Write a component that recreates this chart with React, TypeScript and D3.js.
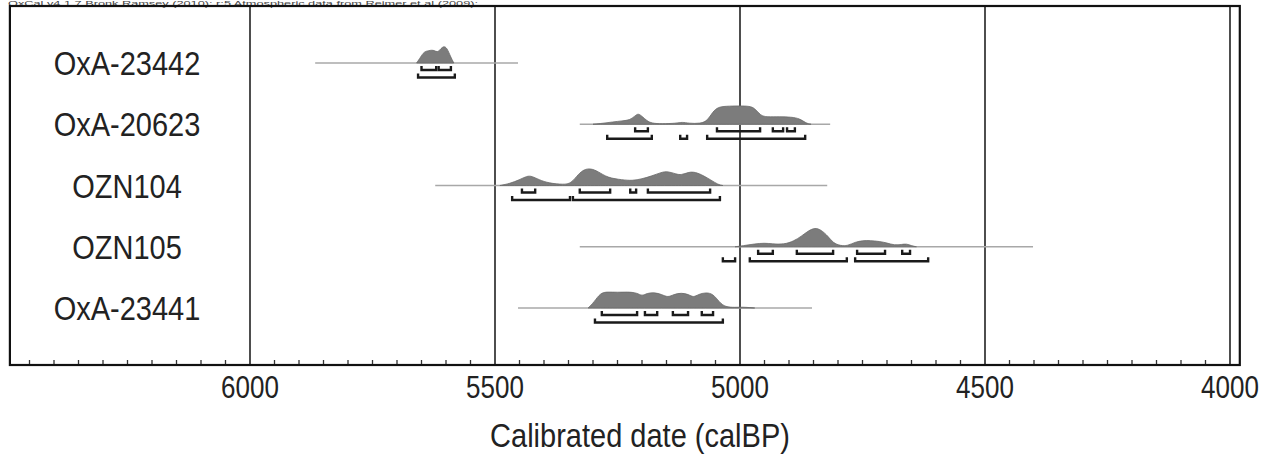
import React from "react";
import * as d3 from "d3";

const samples = ["OxA-23442", "OxA-20623", "OZN104", "OZN105", "OxA-23441"];

// probability densities [calBP, relative density]
const densOxA23442: [number, number][] = [
  [5660, 0], [5652, 0.3], [5645, 0.6], [5635, 0.65], [5626, 0.7], [5618, 0.55], [5612, 0.7],
  [5605, 0.9], [5598, 0.8], [5591, 0.35], [5584, 0],
];
const densOxA20623: [number, number][] = [
  [5300, 0], [5280, 0.05], [5260, 0.12], [5240, 0.18], [5225, 0.22], [5215, 0.42], [5208, 0.58],
  [5200, 0.42], [5190, 0.18], [5180, 0.05], [5160, 0.02], [5130, 0.05], [5118, 0.12], [5105, 0.05],
  [5080, 0.03], [5066, 0.2], [5056, 0.65], [5045, 0.9], [5030, 0.95], [5000, 0.97], [4980, 0.95],
  [4970, 0.85], [4958, 0.45], [4945, 0.38], [4920, 0.4], [4895, 0.38], [4878, 0.3], [4865, 0.05], [4855, 0],
];
const densOZN104: [number, number][] = [
  [5490, 0], [5470, 0.1], [5450, 0.3], [5435, 0.5], [5425, 0.5], [5410, 0.3], [5390, 0.12],
  [5360, 0.05], [5345, 0.1], [5330, 0.6], [5318, 0.85], [5305, 0.9], [5290, 0.75], [5270, 0.4],
  [5240, 0.3], [5220, 0.25], [5200, 0.35], [5180, 0.5], [5160, 0.7], [5148, 0.75], [5130, 0.6],
  [5120, 0.55], [5105, 0.7], [5095, 0.72], [5080, 0.6], [5060, 0.3], [5045, 0.05], [5035, 0],
];
const densOZN105: [number, number][] = [
  [5010, 0], [4995, 0.05], [4970, 0.15], [4950, 0.2], [4935, 0.15], [4910, 0.12], [4890, 0.3],
  [4875, 0.55], [4860, 0.85], [4847, 1.0], [4835, 0.9], [4820, 0.55], [4810, 0.2], [4795, 0.05],
  [4780, 0.05], [4765, 0.25], [4750, 0.32], [4735, 0.33], [4715, 0.28], [4700, 0.2], [4685, 0.08],
  [4670, 0.12], [4660, 0.16], [4650, 0.05], [4640, 0],
];
const densOxA23441: [number, number][] = [
  [5310, 0], [5298, 0.3], [5285, 0.8], [5270, 0.85], [5250, 0.82], [5230, 0.85], [5210, 0.8],
  [5200, 0.62], [5190, 0.78], [5175, 0.82], [5160, 0.72], [5147, 0.55], [5135, 0.72], [5120, 0.8],
  [5105, 0.72], [5095, 0.55], [5085, 0.72], [5070, 0.82], [5055, 0.75], [5042, 0.3], [5030, 0.05],
  [5010, 0.03], [4995, 0.05], [4980, 0.02], [4970, 0],
];
const densities = [densOxA23442, densOxA20623, densOZN104, densOZN105, densOxA23441];

// faint full extent lines
const extents: [number, number][] = [
  [5867, 5453], [5327, 4816], [5622, 4822], [5327, 4402], [5453, 4853],
];

// 68.2% ranges
const ranges68: [number, number][][] = [
  [[5650, 5620], [5615, 5590]],
  [[5214, 5188], [5047, 4959], [4933, 4912], [4904, 4888]],
  [[5445, 5418], [5327, 5265], [5224, 5212], [5188, 5061]],
  [[4963, 4933], [4884, 4810], [4761, 4704], [4669, 4653]],
  [[5282, 5210], [5194, 5169], [5137, 5106], [5078, 5055]],
];
// 95.4% ranges
const ranges95: [number, number][][] = [
  [[5657, 5582]],
  [[5271, 5180], [5122, 5108], [5067, 4867]],
  [[5465, 5347], [5341, 5041]],
  [[5035, 5010], [4980, 4782], [4765, 4616]],
  [[5296, 5035]],
];

const majorTicks = [6000, 5500, 5000, 4500, 4000];
const axisDomain: [number, number] = [6490, 3980];
const headerText = "OxCal v4.1.7 Bronk Ramsey (2010); r:5 Atmospheric data from Reimer et al (2009);";
const xTitle = "Calibrated date (calBP)";

const FONT = "'Liberation Sans', Arial, sans-serif";

export default function App() {
  const W = 1279, H = 460;
  const x = d3.scaleLinear().domain([6000, 4000]).range([250, 1230]);
  const y = d3.scalePoint<string>().domain(samples).range([63, 308]);
  const h = d3.scaleLinear().domain([0, 1]).range([0, 19]);
  const top = 6, bottom = 365;
  const left = x(axisDomain[0]), right = x(axisDomain[1]);
  const minorTicks = d3.range(4000, 6490, 50).filter((t) => t % 500 !== 0);

  const bracket = (r: [number, number], yy: number, key: string) => {
    const x0 = x(r[0]), x1 = x(r[1]);
    return (
      <path key={key} d={`M${x0},${yy - 4}V${yy}H${x1}V${yy - 4}`} fill="none" stroke="#1a1a1a" strokeWidth={2.4} />
    );
  };

  return (
    <svg width={W} height={H} style={{ position: "absolute", left: 0, top: 0, background: "#fff" }}>
      <text
        x={8}
        y={5.5}
        fontFamily={FONT}
        fontSize={7}
        textLength={470}
        lengthAdjust="spacingAndGlyphs"
        fill="#444"
      >
        {headerText}
      </text>
      {/* grid lines */}
      {majorTicks.map((t) => (
        <line key={"g" + t} x1={x(t)} x2={x(t)} y1={top} y2={bottom} stroke="#3a3a3a" strokeWidth={1.8} />
      ))}
      {/* minor ticks */}
      {minorTicks.map((t) => (
        <line key={"m" + t} x1={x(t)} x2={x(t)} y1={bottom - 5} y2={bottom} stroke="#333" strokeWidth={1.3} />
      ))}
      {samples.map((s, i) => {
        const yy = y(s)!;
        const area = d3
          .area<[number, number]>()
          .x((d) => x(d[0]))
          .y0(yy)
          .y1((d) => yy - h(d[1]))
          .curve(d3.curveBasis);
        return (
          <g key={s}>
            <line x1={x(extents[i][0])} x2={x(extents[i][1])} y1={yy} y2={yy} stroke="#a8a8a8" strokeWidth={1.4} />
            <path d={area(densities[i]) || ""} fill="#7c7c7c" stroke="#6a6a6a" strokeWidth={0.8} />
            {ranges68[i].map((r, j) => bracket(r, yy + 7, `a${j}`))}
            {ranges95[i].map((r, j) => bracket(r, yy + 14.5, `b${j}`))}
            <text
              transform={`translate(127,${yy + 12}) scale(1,1.15)`}
              textAnchor="middle"
              fontFamily={FONT}
              fontSize={29}
              fill="#222"
            >
              {s}
            </text>
          </g>
        );
      })}
      {/* frame */}
      <rect x={left} y={top} width={right - left} height={bottom - top} fill="none" stroke="#111" strokeWidth={2.2} />
      {majorTicks.map((t) => (
        <text
          key={"l" + t}
          transform={`translate(${x(t)},${398}) scale(1,1.2)`}
          textAnchor="middle"
          fontFamily={FONT}
          fontSize={26}
          fill="#222"
        >
          {t}
        </text>
      ))}
      <text
        transform={`translate(640,447) scale(1,1.15)`}
        textAnchor="middle"
        fontFamily={FONT}
        fontSize={29}
        fill="#222"
      >
        {xTitle}
      </text>
    </svg>
  );
}
